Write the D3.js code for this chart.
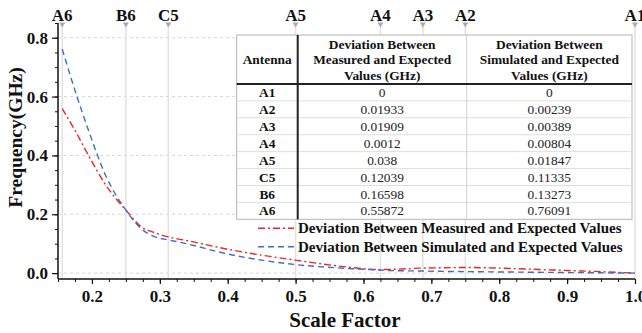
<!DOCTYPE html>
<html><head><meta charset="utf-8">
<script src="https://cdn.jsdelivr.net/npm/d3@7"></script>
<style>html,body{margin:0;padding:0;background:#fff;}svg{display:block;}</style>
</head><body>
<svg id="chart" width="642" height="333"></svg>
<script>
// ---- data ----
const antennas = ["A1","A2","A3","A4","A5","C5","B6","A6"];
const antennaScale = [1.0, 0.75, 0.6875, 0.625, 0.5, 0.3125, 0.25, 0.15625];
const measuredDev = [0, 0.01933, 0.01909, 0.0012, 0.038, 0.12039, 0.16598, 0.55872];
const simulatedDev = [0, 0.00239, 0.00389, 0.00804, 0.01847, 0.11335, 0.13273, 0.76091];
const tableHeaders = ["Antenna", "Deviation Between|Measured and Expected|Values (GHz)", "Deviation Between|Simulated and Expected|Values (GHz)"];
// curves
const curveX = [0.15625, 0.175, 0.195, 0.219, 0.25, 0.273, 0.293, 0.3125, 0.337, 0.4, 0.5, 0.575, 0.61, 0.625, 0.6875, 0.75, 0.8, 0.85, 0.9, 0.95, 1.0];
const measuredCurve = [0.559, 0.485, 0.400, 0.304, 0.214, 0.157, 0.137, 0.123, 0.112, 0.081, 0.044, 0.021, 0.013, 0.012, 0.017, 0.019, 0.017, 0.013, 0.009, 0.005, 0.0];
const simulatedCurve = [0.761, 0.621, 0.485, 0.338, 0.214, 0.150, 0.123, 0.113, 0.101, 0.065, 0.029, 0.016, 0.012, 0.010, 0.007, 0.005, 0.004, 0.003, 0.002, 0.001, 0.0];
const xTicks = [0.2, 0.3, 0.4, 0.5, 0.6, 0.7, 0.8, 0.9, 1.0];
const yTicks = [0.0, 0.2, 0.4, 0.6, 0.8];
const seriesNames = ["Deviation Between Measured and Expected Values", "Deviation Between Simulated and Expected Values"];

// ---- layout ----
const FONT = "'Liberation Serif','Times New Roman',serif";
const svg = d3.select("#chart");
const x = d3.scaleLinear().domain([0.15, 1.0]).range([58, 635]);
const y = d3.scaleLinear().domain([-0.02, 0.85]).range([279, 23]);

// horizontal dashed grid
svg.append("g").selectAll("line").data(yTicks).join("line")
  .attr("x1", x(0.15)).attr("x2", x(1.0))
  .attr("y1", d => y(d)).attr("y2", d => y(d))
  .attr("stroke", "#d6d6d6").attr("stroke-width", 1).attr("stroke-dasharray", "3,3");

// antenna vertical lines + markers + labels
const ag = svg.append("g");
ag.selectAll("line").data(antennaScale).join("line")
  .attr("x1", d => x(d)).attr("x2", d => x(d))
  .attr("y1", 26).attr("y2", y(-0.02))
  .attr("stroke", "#e2e2e2").attr("stroke-width", 1.5);
ag.selectAll("path").data(antennaScale).join("path")
  .attr("d", d => `M${x(d)-3},22.5 L${x(d)+3},22.5 L${x(d)},27.5 Z`)
  .attr("fill", "#aaaaaa");
ag.selectAll("text").data(antennas).join("text")
  .attr("x", (d, i) => x(antennaScale[i])).attr("y", 21)
  .attr("text-anchor", "middle").attr("font-family", FONT)
  .attr("font-weight", "bold").attr("font-size", 17).attr("fill", "#111")
  .text(d => d);

// curves
const line = d3.line().x(d => x(d[0])).y(d => y(d[1])).curve(d3.curveMonotoneX);
const colors = ["#ee2424", "#3f6fba"];
const dashes = ["7,3,2,3", "6,4"];
[measuredCurve, simulatedCurve].forEach((vals, k) => {
  svg.append("path").datum(curveX.map((cx, i) => [cx, vals[i]]))
    .attr("d", line).attr("fill", "none")
    .attr("stroke", colors[k]).attr("stroke-width", 1.4)
    .attr("stroke-dasharray", dashes[k]);
});

// axes
const xAxisG = svg.append("g").attr("transform", `translate(0,${y(-0.02)})`);
xAxisG.call(d3.axisBottom(x).tickValues(d3.range(0.15, 1.0001, 0.025)).tickSize(3).tickFormat(""));
xAxisG.call(g => g.select(".domain").remove());
const xMaj = svg.append("g").attr("transform", `translate(0,${y(-0.02)})`)
  .call(d3.axisBottom(x).tickValues(xTicks).tickSize(5).tickSizeOuter(0).tickPadding(6).tickFormat(d3.format(".1f")));
xMaj.select(".domain").attr("stroke", "#111").attr("stroke-width", 1.5).attr("d", `M${x(0.15)},0H${x(1.0)}`);
xMaj.selectAll(".tick line").attr("stroke", "#111").attr("stroke-width", 1.2);
xAxisG.selectAll(".tick line").attr("stroke", "#111");
xMaj.selectAll("text").attr("font-family", FONT).attr("font-weight", "bold").attr("font-size", 17).attr("fill", "#111");

const yMin = svg.append("g").attr("transform", `translate(${x(0.15)},0)`)
  .call(d3.axisLeft(y).tickValues(d3.range(0, 0.8501, 0.05)).tickSize(3).tickFormat(""));
yMin.select(".domain").remove();
yMin.selectAll(".tick line").attr("stroke", "#111");
const yMaj = svg.append("g").attr("transform", `translate(${x(0.15)},0)`)
  .call(d3.axisLeft(y).tickValues(yTicks).tickSize(6).tickSizeOuter(0).tickPadding(4).tickFormat(d3.format(".1f")));
yMaj.select(".domain").attr("stroke", "#111").attr("stroke-width", 1.5).attr("d", `M0,${y(0.85)}V${y(-0.02)}`);
yMaj.selectAll(".tick line").attr("stroke", "#111").attr("stroke-width", 1.2);
yMaj.selectAll("text").attr("font-family", FONT).attr("font-weight", "bold").attr("font-size", 17).attr("fill", "#111");

// axis titles
svg.append("text").attr("x", 345).attr("y", 327).attr("text-anchor", "middle")
  .attr("font-family", FONT).attr("font-weight", "bold").attr("font-size", 21).attr("fill", "#111")
  .text("Scale Factor");
svg.append("text").attr("transform", "translate(22,137.5) rotate(-90)").attr("text-anchor", "middle")
  .attr("font-family", FONT).attr("font-weight", "bold").attr("font-size", 19.5).attr("fill", "#111")
  .text("Frequency(GHz)");

// table
const T = {x0: 236.7, x1: 297.7, x2: 466.7, x3: 632, top: 35, head: 84, bottom: 219.3};
const tg = svg.append("g");
tg.append("rect").attr("x", T.x0).attr("y", T.top).attr("width", T.x3 - T.x0).attr("height", T.bottom - T.top)
  .attr("fill", "#fff").attr("stroke", "#b4b4b4").attr("stroke-width", 1);
const rowH = (T.bottom - T.head) / antennas.length;
tg.selectAll("line.row").data(d3.range(1, antennas.length)).join("line").attr("class", "row")
  .attr("x1", T.x0).attr("x2", T.x3)
  .attr("y1", i => T.head + i * rowH).attr("y2", i => T.head + i * rowH)
  .attr("stroke", "#dedede").attr("stroke-width", 1);
tg.append("line").attr("x1", T.x2).attr("x2", T.x2).attr("y1", T.top).attr("y2", T.bottom)
  .attr("stroke", "#d0d0d0").attr("stroke-width", 1);
tg.append("line").attr("x1", T.x0).attr("x2", T.x3).attr("y1", T.head).attr("y2", T.head)
  .attr("stroke", "#222").attr("stroke-width", 2);
tg.append("line").attr("x1", T.x1).attr("x2", T.x1).attr("y1", T.top).attr("y2", T.bottom)
  .attr("stroke", "#222").attr("stroke-width", 2);
const colCenters = [(T.x0 + T.x1) / 2, (T.x1 + T.x2) / 2, (T.x2 + T.x3) / 2];
tableHeaders.forEach((h, c) => {
  const lines = h.split("|");
  const startY = lines.length === 1 ? 63.5 : 48.5;
  lines.forEach((ln, j) => {
    tg.append("text").attr("x", colCenters[c]).attr("y", startY + j * 15.5)
      .attr("text-anchor", "middle").attr("font-family", FONT).attr("font-weight", "bold")
      .attr("font-size", 13.4).attr("fill", "#111").text(ln);
  });
});
antennas.forEach((a, i) => {
  const cy = T.head + (i + 0.5) * rowH + 4.6;
  tg.append("text").attr("x", colCenters[0]).attr("y", cy).attr("text-anchor", "middle")
    .attr("font-family", FONT).attr("font-weight", "bold").attr("font-size", 13.4).attr("fill", "#111").text(a);
  tg.append("text").attr("x", colCenters[1]).attr("y", cy).attr("text-anchor", "middle")
    .attr("font-family", FONT).attr("font-size", 13.4).attr("fill", "#222").text(String(measuredDev[i]));
  tg.append("text").attr("x", colCenters[2]).attr("y", cy).attr("text-anchor", "middle")
    .attr("font-family", FONT).attr("font-size", 13.4).attr("fill", "#222").text(String(simulatedDev[i]));
});

// legend
const lg = svg.append("g");
seriesNames.forEach((n, k) => {
  const ly = 228.3 + k * 18.4;
  lg.append("line").attr("x1", 258).attr("x2", 294).attr("y1", ly).attr("y2", ly)
    .attr("stroke", colors[k]).attr("stroke-width", 1.4).attr("stroke-dasharray", dashes[k]);
  lg.append("text").attr("x", 298).attr("y", ly + 5).attr("font-family", FONT)
    .attr("font-weight", "bold").attr("font-size", 15).attr("fill", "#111").text(n);
});
</script>
</body></html>
